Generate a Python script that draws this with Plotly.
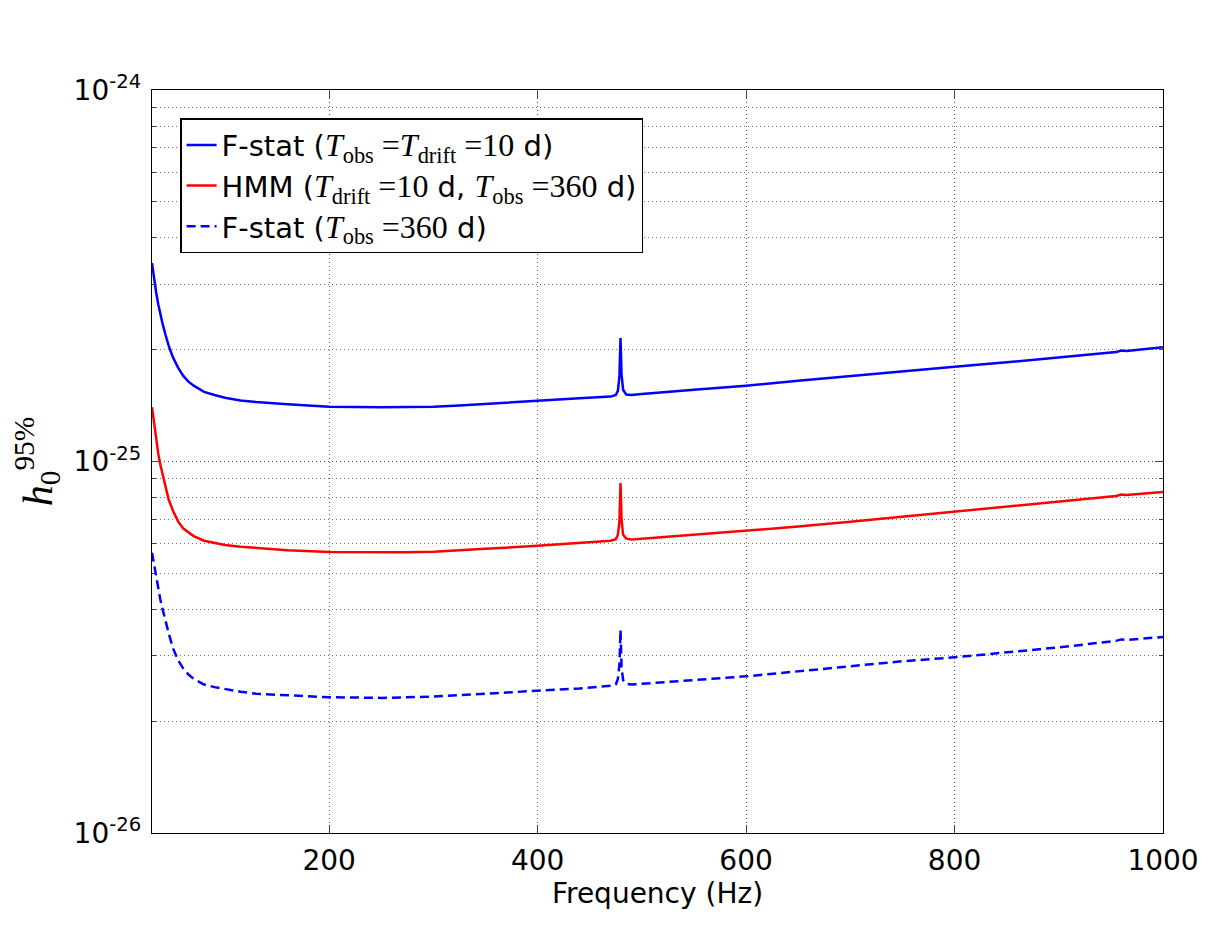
import plotly.graph_objects as go

# frequency grid (Hz) and 95% upper limits
freq = [30, 32, 34, 36, 38, 40, 43, 46, 50, 55, 60, 65, 70, 80, 90, 100, 115, 130,
        160, 200, 250, 275, 300, 325, 350, 400, 440, 470, 475, 477, 478.5, 479.5,
        480.5, 482, 485, 490, 500, 550, 600, 650, 700, 750, 800, 850, 900, 955,
        960, 965, 1000]

h0_fstat_10d = [3.42e-25, 3.10e-25, 2.85e-25, 2.65e-25, 2.49e-25, 2.36e-25, 2.19e-25,
                2.05e-25, 1.91e-25, 1.79e-25, 1.70e-25, 1.64e-25, 1.60e-25, 1.54e-25,
                1.51e-25, 1.485e-25, 1.46e-25, 1.445e-25, 1.425e-25, 1.405e-25, 1.40e-25,
                1.40e-25, 1.405e-25, 1.415e-25, 1.43e-25, 1.46e-25, 1.48e-25, 1.495e-25,
                1.51e-25, 1.55e-25, 1.70e-25, 2.15e-25, 1.72e-25, 1.56e-25, 1.515e-25,
                1.51e-25, 1.52e-25, 1.56e-25, 1.60e-25, 1.65e-25, 1.70e-25, 1.75e-25,
                1.80e-25, 1.85e-25, 1.91e-25, 1.97e-25, 1.99e-25, 1.985e-25, 2.03e-25]

h0_hmm = [1.40e-25, 1.26e-25, 1.14e-25, 1.05e-25, 9.8e-26, 9.3e-26, 8.5e-26,
          7.9e-26, 7.38e-26, 6.9e-26, 6.6e-26, 6.45e-26, 6.3e-26, 6.12e-26,
          6.03e-26, 5.96e-26, 5.9e-26, 5.85e-26, 5.77e-26, 5.71e-26, 5.69e-26,
          5.70e-26, 5.72e-26, 5.76e-26, 5.82e-26, 5.93e-26, 6.03e-26, 6.12e-26,
          6.18e-26, 6.35e-26, 6.9e-26, 8.75e-26, 7.0e-26, 6.35e-26, 6.2e-26,
          6.17e-26, 6.2e-26, 6.35e-26, 6.50e-26, 6.68e-26, 6.88e-26, 7.10e-26,
          7.31e-26, 7.53e-26, 7.77e-26, 8.08e-26, 8.15e-26, 8.13e-26, 8.28e-26]

h0_fstat_360d = [5.68e-26, 5.25e-26, 4.85e-26, 4.55e-26, 4.25e-26, 4.02e-26, 3.70e-26,
                 3.45e-26, 3.15e-26, 2.92e-26, 2.77e-26, 2.67e-26, 2.60e-26, 2.51e-26,
                 2.47e-26, 2.44e-26, 2.40e-26, 2.37e-26, 2.345e-26, 2.32e-26, 2.31e-26,
                 2.315e-26, 2.33e-26, 2.35e-26, 2.37e-26, 2.42e-26, 2.45e-26, 2.49e-26,
                 2.51e-26, 2.6e-26, 2.85e-26, 3.52e-26, 2.8e-26, 2.58e-26, 2.52e-26,
                 2.51e-26, 2.52e-26, 2.58e-26, 2.64e-26, 2.72e-26, 2.81e-26, 2.90e-26,
                 2.97e-26, 3.06e-26, 3.16e-26, 3.29e-26, 3.32e-26, 3.31e-26, 3.37e-26]

x_ticks = [200, 400, 600, 800, 1000]
y_ticks = [1e-26, 1e-25, 1e-24]
y_ticktext = ["10<sup>-26</sup>", "10<sup>-25</sup>", "10<sup>-24</sup>"]
y_minor = [m * 10.0 ** e for e in (-26, -25) for m in range(2, 10)]


def math(s):
    # serif span standing in for the mathtext parts
    return '<span style="font-family:Liberation Serif;font-size:32px">' + s + '</span>'


names = [
    "F-stat (" + math("<i>T</i><sub>obs</sub> =<i>T</i><sub>drift</sub> =10") + " d)",
    "HMM (" + math("<i>T</i><sub>drift</sub> =10") + " d, " + math("<i>T</i><sub>obs</sub> =360") + " d)",
    "F-stat (" + math("<i>T</i><sub>obs</sub> =360") + " d)",
]

fig = go.Figure()
fig.add_trace(go.Scatter(x=freq, y=h0_fstat_10d, mode="lines", name=names[0],
                         line=dict(color="#0000ff", width=2.5)))
fig.add_trace(go.Scatter(x=freq, y=h0_hmm, mode="lines", name=names[1],
                         line=dict(color="#ff0000", width=2.5)))
fig.add_trace(go.Scatter(x=freq, y=h0_fstat_360d, mode="lines", name=names[2],
                         line=dict(color="#0000ff", width=2.5, dash="9px,5px")))

grid = dict(gridcolor="rgba(0,0,0,0.7)", gridwidth=1, griddash="1px,3px")

fig.update_layout(
    width=1219, height=927,
    margin=dict(l=144, r=64, t=82, b=102),
    paper_bgcolor="white", plot_bgcolor="white",
    font=dict(family="DejaVu Sans", size=28, color="black"),
    showlegend=True,
    legend=dict(x=0.028, y=0.962, xanchor="left", yanchor="top",
                bordercolor="black", borderwidth=1.3, bgcolor="white",
                font=dict(size=29), itemwidth=30, tracegroupgap=0),
    xaxis=dict(
        range=[30, 1000], tickvals=x_ticks, ticks="inside", ticklen=8,
        showline=True, linecolor="black", linewidth=1.3, mirror="ticks",
        showgrid=True, zeroline=False, ticklabelstandoff=2,
        title=dict(text="Frequency (Hz)", font=dict(size=28), standoff=6),
        **grid,
    ),
    yaxis=dict(
        type="log", range=[-26, -24], tickvals=y_ticks, ticktext=y_ticktext,
        ticks="inside", ticklen=8, showline=True, linecolor="black",
        linewidth=1.3, mirror="ticks", showgrid=True, zeroline=False,
        ticklabelstandoff=4,
        minor=dict(tickvals=y_minor, ticks="inside", ticklen=4, showgrid=True,
                   gridcolor="rgba(0,0,0,0.55)", gridwidth=1, griddash="1px,3px"),
        title=dict(text="<i>h</i><sub>0</sub><sup>95%</sup>", standoff=14,
                   font=dict(family="Liberation Serif", size=42)),
        **grid,
    ),
)

fig.write_html("out.html")
